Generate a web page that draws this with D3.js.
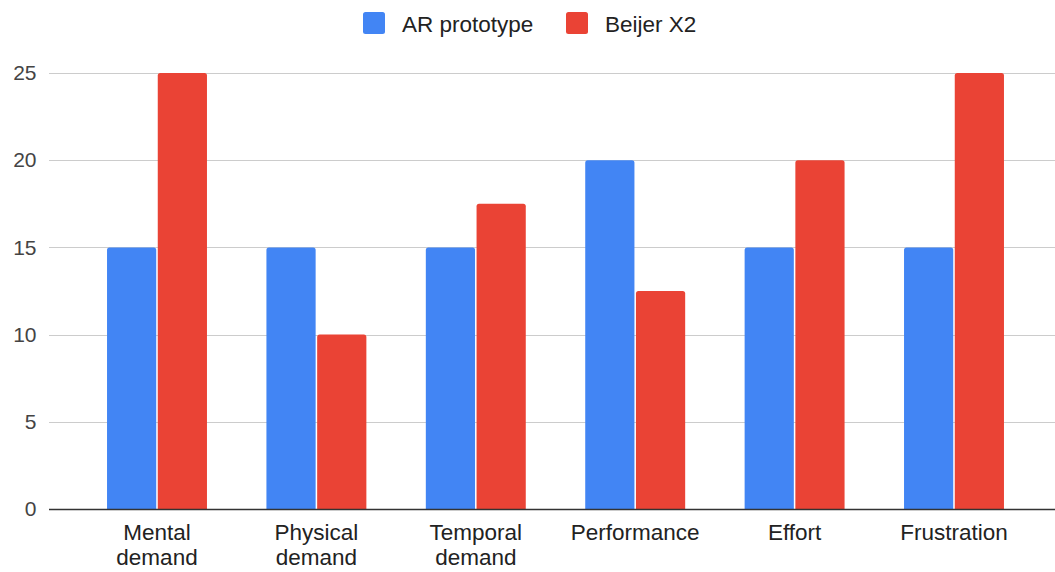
<!DOCTYPE html>
<html>
<head>
<meta charset="utf-8">
<script src="https://cdn.jsdelivr.net/npm/d3@7"></script>
<style>
  html, body { margin: 0; padding: 0; background: #fff; }
  svg { display: block; font-family: "Liberation Sans", Arial, sans-serif; }
</style>
</head>
<body>
<svg id="chart" width="1055" height="572"></svg>
<script>
// Workload ratings per dimension
const categories = [["Mental", "demand"], ["Physical", "demand"], ["Temporal", "demand"], ["Performance"], ["Effort"], ["Frustration"]];
const seriesNames = ["AR prototype", "Beijer X2"];
const arPrototype = [15, 15, 15, 20, 15, 15];
const beijerX2 = [25, 10, 17.5, 12.5, 20, 25];
const yTicks = [0, 5, 10, 15, 20, 25];
const colors = ["#4285F4", "#EA4335"];

const svg = d3.select("#chart");
const W = 1055;
const margin = { left: 49, right: 0, top: 73, bottom: 63 };
const baseY = 509;

const catKeys = categories.map(c => c.join(" "));
const x = d3.scaleBand()
  .domain(catKeys)
  .range([77.3, 1033.7])
  .paddingInner(0.373)
  .paddingOuter(0.1865);
const xs = d3.scaleBand()
  .domain(seriesNames)
  .range([0, x.bandwidth()])
  .paddingInner(0.03);
const y = d3.scaleLinear().domain([0, 25]).range([baseY, 73]);

// gridlines
svg.append("g")
  .selectAll("line")
  .data(yTicks.filter(t => t !== 0))
  .join("line")
  .attr("x1", margin.left).attr("x2", W)
  .attr("y1", d => Math.round(y(d)) + 0.5).attr("y2", d => Math.round(y(d)) + 0.5)
  .attr("stroke", "#cccccc").attr("stroke-width", 1);

// y-axis labels
const yAxis = d3.axisLeft(y).tickValues(yTicks).tickSize(0).tickPadding(0);
const yg = svg.append("g").attr("transform", "translate(36.5,0)").call(yAxis);
yg.select(".domain").remove();
yg.selectAll("text")
  .attr("font-size", 21)
  .attr("fill", "#444")
  .attr("font-family", "'Liberation Sans', Arial, sans-serif");

// bars with slightly rounded top corners
function barPath(x0, w, yTop, yBot, r) {
  r = Math.min(r, w / 2, (yBot - yTop));
  return `M${x0},${yBot}V${yTop + r}Q${x0},${yTop} ${x0 + r},${yTop}H${x0 + w - r}Q${x0 + w},${yTop} ${x0 + w},${yTop + r}V${yBot}Z`;
}
const rows = catKeys.map((k, i) => ({ key: k, values: [arPrototype[i], beijerX2[i]] }));
const groups = svg.append("g").selectAll("g")
  .data(rows)
  .join("g")
  .attr("transform", d => `translate(${x(d.key)},0)`);
groups.selectAll("path")
  .data(d => d.values.map((v, j) => ({ name: seriesNames[j], value: v, j })))
  .join("path")
  .attr("d", d => barPath(xs(d.name), xs.bandwidth(), y(d.value), y(0), 2.5))
  .attr("fill", d => colors[d.j]);

// baseline
svg.append("line")
  .attr("x1", margin.left).attr("x2", W)
  .attr("y1", baseY + 0.5).attr("y2", baseY + 0.5)
  .attr("stroke", "#333").attr("stroke-width", 1.3);

// x-axis category labels
const xl = svg.append("g").selectAll("text")
  .data(categories)
  .join("text")
  .attr("x", (d, i) => x(catKeys[i]) + x.bandwidth() / 2)
  .attr("y", 540)
  .attr("text-anchor", "middle")
  .attr("font-size", 22.5)
  .attr("fill", "#222");
xl.selectAll("tspan")
  .data(d => d)
  .join("tspan")
  .attr("x", function () { return d3.select(this.parentNode).attr("x"); })
  .attr("dy", (d, i) => i === 0 ? 0 : 25)
  .text(d => d);

// legend
const legend = [
  { name: seriesNames[0], color: colors[0], sx: 363, tx: 402 },
  { name: seriesNames[1], color: colors[1], sx: 566, tx: 605 }
];
const lg = svg.append("g");
lg.selectAll("rect")
  .data(legend)
  .join("rect")
  .attr("x", d => d.sx).attr("y", 12)
  .attr("width", 22).attr("height", 22)
  .attr("rx", 2.5)
  .attr("fill", d => d.color);
lg.selectAll("text")
  .data(legend)
  .join("text")
  .attr("x", d => d.tx).attr("y", 31.5)
  .attr("font-size", 22.5)
  .attr("fill", "#222")
  .text(d => d.name);
</script>
</body>
</html>
